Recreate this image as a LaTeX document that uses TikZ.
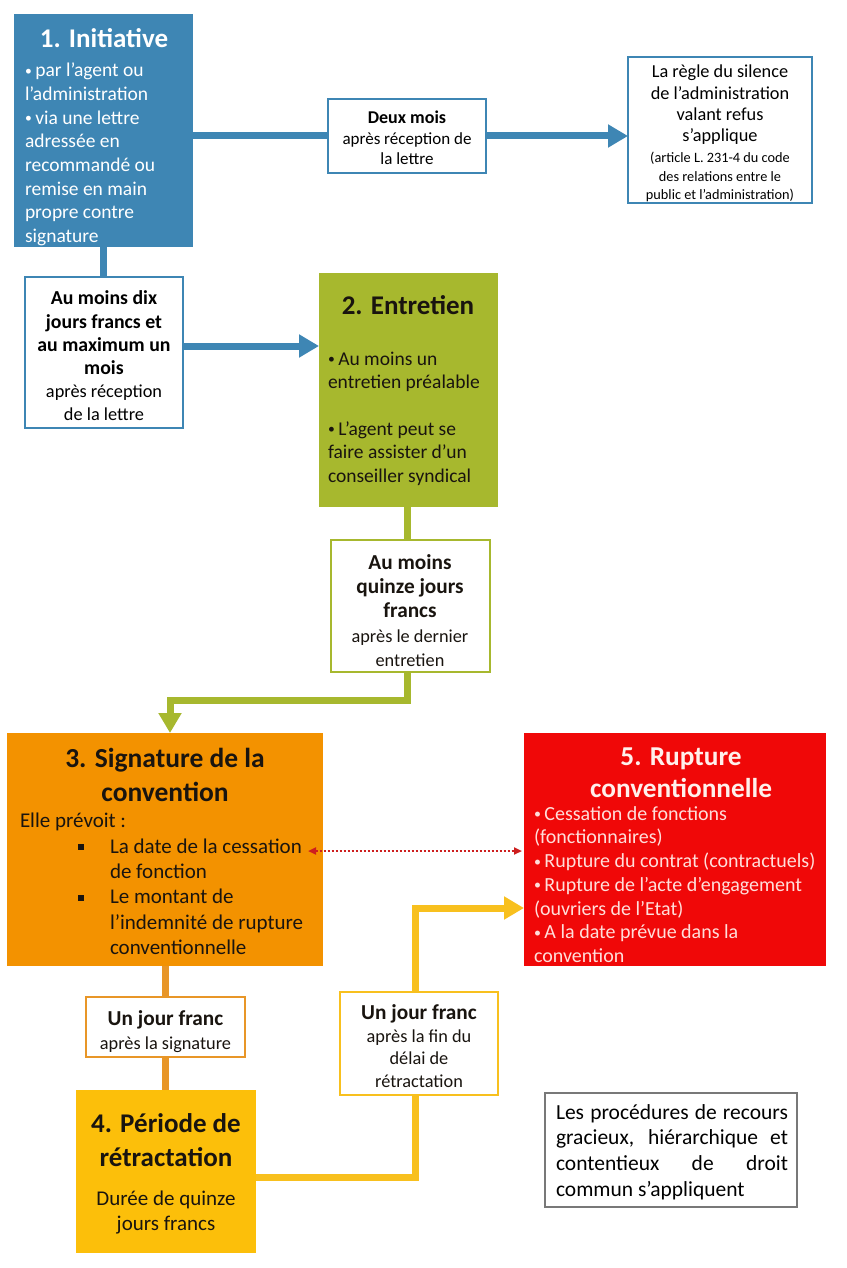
\documentclass[tikz,border=0pt]{standalone}
\usepackage{fontspec}
\usepackage{graphicx}
\setmainfont{Carlito}
\usetikzlibrary{arrows.meta}
\definecolor{cblue}{RGB}{62,134,180}
\definecolor{cgreen}{RGB}{167,184,46}
\definecolor{corange}{RGB}{243,146,0}
\definecolor{coline}{RGB}{232,150,40}
\definecolor{cred}{RGB}{240,8,8}
\definecolor{credtxt}{RGB}{255,222,218}
\definecolor{credtitle}{RGB}{255,240,236}
\definecolor{cdots}{RGB}{205,30,30}
\definecolor{cyellow}{RGB}{252,191,10}
\definecolor{cyline}{RGB}{248,192,30}
\definecolor{cgray}{RGB}{120,120,120}
\definecolor{cdark}{RGB}{25,20,15}
\newcommand\myfs[2]{\fontsize{#1pt}{#2pt}\selectfont}
\newcommand\sqb{\raisebox{3pt}{\rule{6pt}{6pt}}}
\newcommand\bul{\raisebox{1.5pt}{\scalebox{0.7}{•}}\hspace{3.5pt}}
\begin{document}
\begin{tikzpicture}[x=1pt,y=-1pt,
  box/.style={anchor=north west, inner sep=0pt, outer sep=0pt},
  txt/.style={inner sep=0pt, outer sep=0pt},
  bline/.style={draw=cblue, line width=7pt},
  gline/.style={draw=cgreen, line width=7pt},
  oline/.style={draw=coline, line width=7pt},
  yline/.style={draw=cyline, line width=7pt},
  tip/.style={-{Triangle[length=20pt,width=22pt]}},
]
\useasboundingbox[fill=white] (0,0) rectangle (846,1268);

% boxes
\node[box, fill=cblue, minimum width=179pt, minimum height=233pt] (init) at (14,14) {};
\node[box, fill=white, draw=cblue, line width=2.5pt, minimum width=158pt, minimum height=74pt] (deux) at (328,99) {};
\node[box, fill=white, draw=cblue, line width=1.5pt, minimum width=184pt, minimum height=146pt] (rule) at (628,57) {};
\node[box, fill=white, draw=cblue, line width=2.5pt, minimum width=158pt, minimum height=151pt] (dix) at (25,277) {};
\node[box, fill=cgreen, minimum width=179pt, minimum height=234pt] (ent) at (319,273) {};
\node[box, fill=white, draw=cgreen, line width=2.5pt, minimum width=159pt, minimum height=132pt] (quinze) at (331,540) {};
\node[box, fill=corange, minimum width=316pt, minimum height=233pt] (sig) at (7,733) {};
\node[box, fill=cred, minimum width=302pt, minimum height=233pt] (rup) at (524,733) {};
\node[box, fill=white, draw=coline, line width=2.5pt, minimum width=159pt, minimum height=60pt] (unjL) at (86,997) {};
\node[box, fill=white, draw=cyline, line width=2.5pt, minimum width=158pt, minimum height=103pt] (unjR) at (340,992) {};
\node[box, fill=cyellow, minimum width=180pt, minimum height=163pt] (per) at (76,1090) {};
\node[box, fill=white, draw=cgray, line width=1.2pt, minimum width=252pt, minimum height=114pt] (rec) at (545,1093) {};

% texts
\node[txt, text=white, font=\myfs{27}{32}\bfseries] (initT) at (104,38) {1. Initiative};
\node[txt, text=white, anchor=west, align=left, font=\myfs{19.5}{23.7}] (initB) at (25,154.5)
  {\bul par l’agent ou\\l’administration\\\bul via une lettre\\adressée en\\recommandé ou\\remise en main\\propre contre\\signature};
\node[txt, align=center, font=\myfs{17}{20.3}] (deuxT) at (407,138)
  {{\myfs{18}{20.3}\bfseries Deux mois}\\après réception de\\la lettre};
\node[txt, align=center, font=\myfs{18.3}{21.3}] (ruleA) at (720,105)
  {La règle du silence\\de l’administration\\valant refus\\s’applique};
\node[txt, align=center, font=\myfs{14.3}{18.6}] (ruleB) at (720,177)
  {(article L. 231-4 du code\\des relations entre le\\public et l’administration)};
\node[txt, align=center, font=\myfs{19.8}{23.2}] (dixT) at (104,356)
  {\bfseries Au moins dix\\\bfseries jours francs et\\\bfseries au maximum un\\\bfseries mois\\\myfs{18.3}{23.2}après réception\\\myfs{18.3}{23.2}de la lettre};
\node[txt, font=\myfs{27}{32}\bfseries, text=cdark] (entT) at (408,305) {2. Entretien};
\node[txt, anchor=west, align=left, font=\myfs{19.5}{23.4}, text=cdark] (entB) at (328,418.5)
  {\bul Au moins un\\entretien préalable\\~\\\bul L’agent peut se\\faire assister d’un\\conseiller syndical};
\node[txt, align=center, font=\myfs{21.3}{24.25}, text=cdark] (quinzeT) at (410,610.5)
  {\bfseries Au moins\\\bfseries quinze jours\\\bfseries francs\\\myfs{18.3}{24.25}après le dernier\\\myfs{18.3}{24.25}entretien};
\node[txt, align=center, font=\myfs{27.5}{34}\bfseries, text=cdark] (sigT) at (165,774.5)
  {3. Signature de la\\convention};
\node[txt, anchor=west, align=left, font=\myfs{21}{25.4}, text=cdark] (sigB) at (20,884)
  {Elle prévoit :\\
   \hspace*{58pt}\makebox[32pt][l]{\sqb}La date de la cessation\\
   \hspace*{90pt}de fonction\\
   \hspace*{58pt}\makebox[32pt][l]{\sqb}Le montant de\\
   \hspace*{90pt}l’indemnité de rupture\\
   \hspace*{90pt}conventionnelle};
\node[txt, align=center, font=\myfs{27.3}{31.5}\bfseries, text=credtitle] (rupT) at (681,772.5)
  {5. Rupture\\conventionnelle};
\node[txt, anchor=west, align=left, font=\myfs{20}{23.7}, text=credtxt] (rupB) at (534,884.5)
  {\bul Cessation de fonctions\\(fonctionnaires)\\\bul Rupture du contrat (contractuels)\\\bul Rupture de l’acte d’engagement\\(ouvriers de l’Etat)\\\bul A la date prévue dans la\\convention};
\node[txt, align=center, font=\myfs{21.3}{24}, text=cdark] (unjLT) at (165.5,1032)
  {\bfseries Un jour franc\\\myfs{18.3}{24}après la signature};
\node[txt, align=center, font=\myfs{21.3}{22.7}, text=cdark] (unjRT) at (419,1046)
  {\bfseries Un jour franc\\\myfs{18.3}{22.7}après la fin du\\\myfs{18.3}{22.7}délai de\\\myfs{18.3}{22.7}rétractation};
\node[txt, align=center, font=\myfs{27}{34}\bfseries, text=cdark] (perT) at (166,1140)
  {4. Période de\\rétractation};
\node[txt, align=center, font=\myfs{21}{25}, text=cdark] (perB) at (166,1212.5)
  {Durée de quinze\\jours francs};
\node[txt, align=justify, text width=232pt, font=\myfs{21.5}{25.7}, text=black] (recT) at (672,1152)
  {Les procédures de recours\linebreak gracieux, hiérarchique et\linebreak contentieux de droit\linebreak commun s’appliquent};

% connectors
\draw[bline] (init.east |- deux.west) -- (deux.west);
\draw[bline, tip] (deux.east) -- (deux.east -| rule.west);
\draw[bline] (init.south) -- (init.south |- dix.north);
\draw[bline, tip] ([yshift=6.5pt]dix.east) -- ([yshift=6.5pt]dix.east -| ent.west);
\draw[gline] ([xshift=-1.5pt]ent.south) -- ([xshift=-1.5pt]ent.south |- quinze.north);
\draw[gline, tip] ([xshift=-1.5pt]ent.south |- quinze.south) -- ++(0,28) -| ([xshift=5pt]sig.north);
\draw[oline] (sig.south) -- (sig.south |- unjL.north);
\draw[oline] (unjL.south -| sig.south) -- (sig.south |- per.north);
\draw[yline] ([yshift=-5.5pt]per.east) -| ([xshift=-4pt]unjR.south);
\draw[yline, tip] ([xshift=-4pt]unjR.north) |- ([yshift=-58.5pt]rup.west);
\draw[cdots, line width=2pt, dash pattern=on 2pt off 2pt,
  {Triangle[length=8pt,width=7pt]}-{Triangle[length=8pt,width=7pt]}] ([xshift=-15pt,yshift=-1.5pt]sig.east) -- ([xshift=-2pt,yshift=-1.5pt]rup.west);
\end{tikzpicture}
\end{document}
